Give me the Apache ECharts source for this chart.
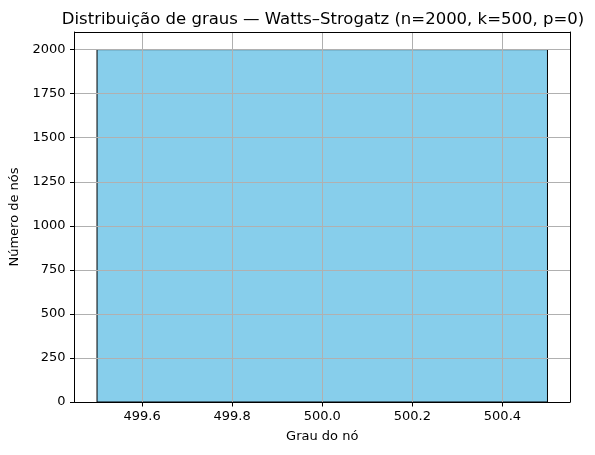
<!DOCTYPE html>
<html>
<head>
<meta charset="utf-8">
<script src="https://cdn.jsdelivr.net/npm/echarts@6/dist/echarts.min.js"></script>
<style>
  html, body { margin: 0; padding: 0; background: #fff; }
  #chart { width: 595px; height: 455px; }
</style>
</head>
<body>
<div id="chart"></div>
<script>
// histograma: bordas dos bins e contagens
const binEdges = [499.5, 500.5];
const counts = [2000];
const xRange = [499.45, 500.55];
const yRange = [0, 2100];

const font = 'DejaVu Sans';
const bars = counts.map((c, i) => [binEdges[i], binEdges[i + 1], c]);

const chart = echarts.init(document.getElementById('chart'), null, { renderer: 'canvas' });

// eixos extras só para fechar a moldura (topo e direita) em preto
const frameAxis = (pos, range) => ({
  type: 'value', position: pos, min: range[0], max: range[1], z: 6,
  axisLine: { show: true, onZero: false, lineStyle: { color: '#000', width: 1 } },
  axisTick: { show: false }, axisLabel: { show: false }, splitLine: { show: false }
});

chart.setOption({
  animation: false,
  backgroundColor: '#fff',
  title: {
    text: 'Distribuição de graus — Watts–Strogatz (n=2000, k=500, p=0)',
    left: 318, top: 6, textAlign: 'center',
    textStyle: { fontFamily: font, fontSize: 16.5, fontWeight: 'normal', color: '#000' }
  },
  grid: { left: 74.5, right: 25, top: 32, bottom: 53 },
  xAxis: [{
    type: 'value', min: xRange[0], max: xRange[1], splitNumber: 5, z: 5,
    name: 'Grau do nó', nameLocation: 'middle', nameGap: 28,
    nameTextStyle: { fontFamily: font, fontSize: 13, color: '#000' },
    axisLine: { show: true, onZero: false, lineStyle: { color: '#000', width: 1 } },
    axisTick: { show: true, length: 4.5, inside: false, lineStyle: { color: '#000' } },
    axisLabel: {
      fontFamily: font, fontSize: 13, color: '#000', margin: 8,
      showMinLabel: false, showMaxLabel: false,
      formatter: v => v.toFixed(1)
    },
    splitLine: { show: true, lineStyle: { color: '#b0b0b0', width: 1 } }
  }, frameAxis('top', xRange)],
  yAxis: [{
    type: 'value', min: yRange[0], max: yRange[1], interval: 250, z: 5,
    name: 'Número de nós', nameLocation: 'middle', nameGap: 53, nameRotate: 90,
    nameTextStyle: { fontFamily: font, fontSize: 13, color: '#000' },
    axisLine: { show: true, lineStyle: { color: '#000', width: 1 } },
    axisTick: { show: true, length: 4.5, lineStyle: { color: '#000' } },
    axisLabel: {
      fontFamily: font, fontSize: 13, color: '#000', margin: 9,
      showMaxLabel: false,
      formatter: v => String(v)
    },
    splitLine: { show: true, lineStyle: { color: '#b0b0b0', width: 1 } }
  }, frameAxis('right', yRange)],
  series: [{
    type: 'custom',
    z: 1,
    data: bars,
    encode: { x: [0, 1], y: 2 },
    renderItem: (params, api) => {
      const p0 = api.coord([api.value(0), api.value(2)]);
      const p1 = api.coord([api.value(1), 0]);
      return {
        type: 'rect',
        shape: { x: p0[0], y: p0[1], width: p1[0] - p0[0], height: p1[1] - p0[1] },
        style: { fill: '#87ceeb', stroke: '#000', lineWidth: 1 }
      };
    }
  }]
});
</script>
</body>
</html>
